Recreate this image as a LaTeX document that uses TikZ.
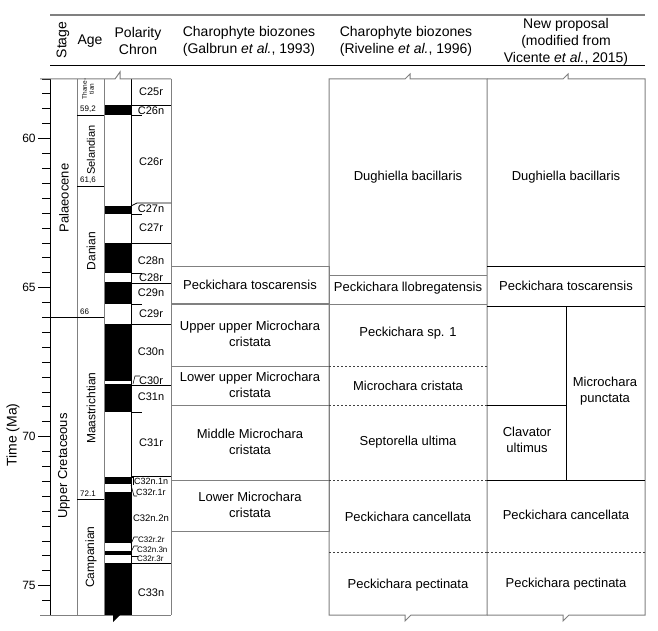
\documentclass[tikz,border=0pt]{standalone}
\usepackage{fontspec}
\setmainfont{Liberation Sans}
\definecolor{framegray}{gray}{0.5}
\tikzset{
  head/.style={font=\fontsize{14}{17}\selectfont, align=center, inner sep=0pt},
  zone/.style={font=\fontsize{13}{15.5}\selectfont, align=center, inner sep=0pt},
  stagename/.style={font=\fontsize{13}{15}\selectfont, rotate=90, inner sep=0pt},
  agename/.style={font=\fontsize{12}{14}\selectfont, rotate=90, inner sep=0pt},
  agenum/.style={font=\fontsize{8}{9}\selectfont, anchor=south west, inner sep=1pt},
  chron/.style={font=\fontsize{11}{12}\selectfont, inner sep=0pt},
  subchron/.style={font=\fontsize{8}{9}\selectfont, anchor=west, inner sep=0pt},
  colline/.style={draw=framegray, line width=1pt},
  chronline/.style={draw=black, line width=0.8pt},
  zonedash/.style={draw=black!75, dash pattern=on 2pt off 2pt, line width=0.8pt},
}
\begin{document}
\begin{tikzpicture}[x=1pt, y=-1pt]
    \useasboundingbox (0,0) rectangle (658,631);

    % header
    \draw[framegray, line width=2pt] (50,15) -- (645,15);
    \draw[line width=1pt] (50,66) -- (645,66);
    \node[head, rotate=90] (hStage) at (63,40) {Stage};
    \node[head] (hAge) at (90,41) {Age};
    \node[head] (hPol) at (138,41) {Polarity\\Chron};
    \node[head] (hGal) at (249,41) {Charophyte biozones\\(Galbrun \textit{et al.}, 1993)};
    \node[head] (hRiv) at (406,41) {Charophyte biozones\\(Riveline \textit{et al.}, 1996)};
    \node[head] (hNew) at (566,42) {New proposal\\(modified from\\Vicente \textit{et al.}, 2015)};

    % time axis
    \draw[line width=1pt] (50,79) -- (50,615);
    \foreach \t in {0,...,36} \draw[line width=0.8pt] (42,{79+\t*14.9}) -- (50,{79+\t*14.9});
    \foreach \m in {60,65,70,75} \draw[line width=0.8pt] (50,{79+(\m-58)*29.8}) -- (38,{79+(\m-58)*29.8}) node[left, inner sep=2pt, font=\fontsize{12}{14}\selectfont] (tick\m) {\m};
    \node[head, rotate=90] (timeLab) at (13,435) {Time (Ma)};

    % polarity (normal = black)
    \foreach \a/\b in {105/115, 206/214, 243/273, 282/304, 324/381, 384/412, 477/484, 492/543, 551/555, 563/615}
        \fill (104,\a) rectangle (131,\b);

    % stage, age and chron frame
    \draw[colline] (77,79) -- (77,615) (104,79) -- (104,615) (171,79) -- (171,615);
    \draw[line width=0.9pt] (131,79) -- (131,615);
    \draw[colline] (40,79) -- (115,79) -- (120,72) -- (120,79) -- (171,79);
    \draw[colline] (40,615) -- (171,615);
    \fill (113,615) -- (113,622) -- (120,615) -- cycle;

    \node[stagename] (palaeo) at (64,198) {Palaeocene};
    \node[stagename] (upCret) at (64,466) {Upper Cretaceous};

    \draw[chronline] (77,115) -- (104,115) (77,186) -- (104,186) (50,317) -- (104,317) (77,499) -- (104,499);
    \node[rotate=90, align=center, inner sep=0pt, font=\fontsize{6.5}{7}\selectfont] (thanet) at (88,89) {Thane-\\tian};
    \node[agename, font=\fontsize{11}{13}\selectfont] (seland) at (91,150) {Selandian};
    \node[agename] (danian) at (91,251) {Danian};
    \node[agename] (maastr) at (91,408) {Maastrichtian};
    \node[agename] (campan) at (91,557) {Campanian};
    \node[agenum] (a592) at (79,114) {59,2};
    \node[agenum] (a616) at (79,185) {61,6};
    \node[agenum] (a66) at (79,316) {66};
    \node[agenum] (a721) at (79,498) {72.1};

    % chrons
    \foreach \yy in {105,243,283,324,385,476,563} \draw[chronline] (131,\yy) -- (171,\yy);
    \foreach \yy in {115,214,273,304,412} \draw[chronline] (131,\yy) -- (142,\yy);
    \draw[chronline] (131,206) -- (137,203) -- (171,203);
    \draw[chronline, line width=0.6pt] (133,384) -- (135,376) -- (140,376);
    \draw[chronline, line width=0.6pt] (131,477) -- (133,477) -- (133,485);
    \draw[chronline, line width=0.6pt] (131,485) -- (134,496) -- (137,496);
    \draw[chronline, line width=0.6pt] (131,544) -- (134,537) -- (138,537);
    \draw[chronline, line width=0.6pt] (131,552) -- (134,546) -- (138,546);
    \draw[chronline, line width=0.6pt] (131,556) -- (138,556);
    \foreach \c/\yy in {C25r/92, C26n/111, C26r/162, C27n/209, C27r/228, C28n/261, C28r/278, C29n/293, C29r/314, C30n/352, C30r/381, C31n/397, C31r/443, C33n/593}
        \node[chron] (\c) at (151,\yy) {\c};
    \node[subchron, font=\fontsize{9}{10}\selectfont] (c32n1n) at (134,481) {C32n.1n};
    \node[subchron, font=\fontsize{9}{10}\selectfont] (c32r1r) at (136,492) {C32r.1r};
    \node[chron, font=\fontsize{9.5}{10}\selectfont] (c32n2n) at (151,518) {C32n.2n};
    \node[subchron] (c32r2r) at (138,540) {C32r.2r};
    \node[subchron] (c32n3n) at (137,550) {C32n.3n};
    \node[subchron] (c32r3r) at (137,559) {C32r.3r};

    % Galbrun et al., 1993
    \draw[colline] (171,266) rectangle (329,303) (171,304) rectangle (329,366) (171,366) rectangle (329,405) (171,405) rectangle (329,480) (171,480) rectangle (329,531);
    \node[zone] (galTos) at (250,285) {Peckichara toscarensis};
    \node[zone] (galUU) at (250,334) {Upper upper Microchara\\cristata};
    \node[zone] (galLU) at (250,385) {Lower upper Microchara\\cristata};
    \node[zone] (galMid) at (250,442) {Middle Microchara\\cristata};
    \node[zone] (galLow) at (250,505) {Lower Microchara\\cristata};

    % Riveline et al., 1996
    \draw[colline] (329,79) -- (405,79) -- (410,74) -- (410,79) -- (487,79) -- (487,615) -- (411,615) -- (405,621) -- (405,615) -- (329,615) -- cycle;
    \draw[colline] (329,275) -- (487,275) (329,304) -- (487,304);
    \foreach \yy in {366,405,480,552} \draw[zonedash] (329,\yy) -- (487,\yy);
    \node[zone] (rivDug) at (408,177) {Dughiella bacillaris};
    \node[zone] (rivLlo) at (408,288) {Peckichara llobregatensis};
    \node[zone] (rivSp) at (408,333) {Peckichara sp. 1};
    \node[zone] (rivMic) at (408,386) {Microchara cristata};
    \node[zone] (rivSep) at (408,442) {Septorella ultima};
    \node[zone] (rivCan) at (408,517) {Peckichara cancellata};
    \node[zone] (rivPec) at (408,585) {Peckichara pectinata};

    % new proposal
    \draw[colline] (487,79) -- (563,79) -- (568,74) -- (568,79) -- (645,79) -- (645,615) -- (569,615) -- (563,621) -- (563,615) -- (487,615);
    \draw[chronline] (487,266) -- (645,266) (487,306) -- (645,306) (487,480) -- (645,480) (566,306) -- (566,480) (487,405) -- (566,405);
    \draw[zonedash] (487,552) -- (645,552);
    \node[zone] (newDug) at (566,177) {Dughiella bacillaris};
    \node[zone] (newTos) at (566,286) {Peckichara toscarensis};
    \node[zone] (newCla) at (527,440) {Clavator\\ultimus};
    \node[zone] (newPun) at (605,391) {Microchara\\punctata};
    \node[zone] (newCan) at (566,515) {Peckichara cancellata};
    \node[zone] (newPec) at (566,584) {Peckichara pectinata};
\end{tikzpicture}
\end{document}
